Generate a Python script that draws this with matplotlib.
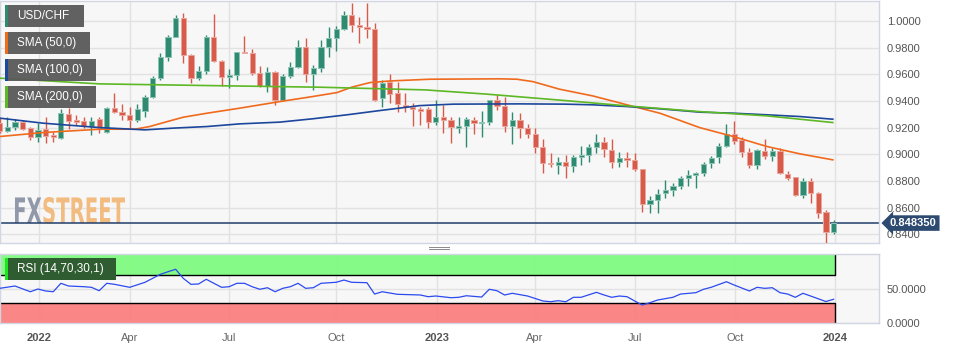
import matplotlib
matplotlib.use("Agg")
import matplotlib.pyplot as plt
import numpy as np
from matplotlib.patches import Rectangle, PathPatch
from matplotlib.textpath import TextPath
from matplotlib.font_manager import FontProperties
from matplotlib.transforms import Affine2D
from matplotlib.lines import Line2D

# weekly USD/CHF candles
opens = [0.9238, 0.9178, 0.9208, 0.9245, 0.9196, 0.9128, 0.9188, 0.9146, 0.9121, 0.9303,
         0.9258, 0.9253, 0.9213, 0.9266, 0.9166, 0.9346, 0.9316, 0.9296, 0.9258, 0.9326,
         0.9433, 0.9575, 0.9733, 0.9883, 1.0021, 0.9746, 0.9571, 0.9626, 0.9878, 0.9703,
         0.9578, 0.9596, 0.9770, 0.9763, 0.9608, 0.9513, 0.9616, 0.9408, 0.9588, 0.9658,
         0.9808, 0.9603, 0.9646, 0.9808, 0.9871, 0.9938, 1.0046, 0.9971, 0.9953, 0.9938,
         0.9425, 0.9545, 0.9458, 0.9368, 0.9353, 0.9343, 0.9338, 0.9245, 0.9278, 0.9258,
         0.9200, 0.9213, 0.9258, 0.9238, 0.9245, 0.9408, 0.9363, 0.9213, 0.9258, 0.9196,
         0.9151, 0.9058, 0.8938, 0.8923, 0.8943, 0.8913, 0.8983, 0.8996, 0.9053, 0.9091,
         0.9033, 0.8941, 0.8975, 0.8958, 0.8891, 0.8626, 0.8658, 0.8708, 0.8728, 0.8765,
         0.8825, 0.8846, 0.8858, 0.8933, 0.8978, 0.9065, 0.9151, 0.9108, 0.9020, 0.8921,
         0.9028, 0.8990, 0.9026, 0.8853, 0.8828, 0.8696, 0.8801, 0.8708, 0.8563, 0.8413]
highs = [0.9273, 0.9283, 0.9266, 0.9258, 0.9208, 0.9233, 0.9278, 0.9170, 0.9338, 0.9346,
         0.9296, 0.9283, 0.9283, 0.9283, 0.9353, 0.9458, 0.9378, 0.9358, 0.9378, 0.9446,
         0.9588, 0.9758, 0.9896, 1.0046, 1.0058, 0.9753, 0.9663, 0.9896, 1.0051, 0.9708,
         0.9638, 0.9770, 0.9888, 0.9788, 0.9663, 0.9658, 0.9628, 0.9603, 0.9691, 0.9858,
         0.9871, 0.9671, 0.9858, 0.9958, 0.9963, 1.0078, 1.0138, 1.0028, 1.0138, 0.9983,
         0.9558, 0.9603, 0.9545, 0.9458, 0.9383, 0.9358, 0.9358, 0.9408, 0.9371, 0.9283,
         0.9278, 0.9278, 0.9283, 0.9328, 0.9408, 0.9446, 0.9433, 0.9320, 0.9313, 0.9228,
         0.9196, 0.9113, 0.9008, 0.8983, 0.8993, 0.8996, 0.9063, 0.9078, 0.9151, 0.9128,
         0.9113, 0.9016, 0.9016, 0.9008, 0.8891, 0.8688, 0.8738, 0.8803, 0.8783, 0.8833,
         0.8883, 0.8870, 0.8945, 0.8988, 0.9083, 0.9228, 0.9251, 0.9128, 0.9046, 0.9041,
         0.9113, 0.9046, 0.9046, 0.8878, 0.8831, 0.8821, 0.8821, 0.8713, 0.8583, 0.8508]
lows = [0.9161, 0.9170, 0.9183, 0.9183, 0.9108, 0.9095, 0.9088, 0.9095, 0.9113, 0.9188,
        0.9221, 0.9196, 0.9146, 0.9163, 0.9163, 0.9313, 0.9258, 0.9196, 0.9245, 0.9283,
        0.9421, 0.9558, 0.9703, 0.9878, 0.9688, 0.9538, 0.9558, 0.9603, 0.9695, 0.9513,
        0.9496, 0.9558, 0.9758, 0.9596, 0.9503, 0.9470, 0.9371, 0.9403, 0.9571, 0.9646,
        0.9545, 0.9483, 0.9620, 0.9733, 0.9778, 0.9933, 0.9916, 0.9838, 0.9871, 0.9403,
        0.9353, 0.9388, 0.9320, 0.9320, 0.9213, 0.9221, 0.9196, 0.9221, 0.9163, 0.9083,
        0.9158, 0.9058, 0.9153, 0.9133, 0.9221, 0.9333, 0.9170, 0.9078, 0.9121, 0.9121,
        0.9008, 0.8858, 0.8908, 0.8851, 0.8821, 0.8870, 0.8921, 0.8941, 0.9013, 0.8983,
        0.8900, 0.8908, 0.8908, 0.8878, 0.8570, 0.8558, 0.8558, 0.8671, 0.8690, 0.8738,
        0.8758, 0.8746, 0.8833, 0.8896, 0.8933, 0.9058, 0.9076, 0.8983, 0.8900, 0.8888,
        0.8966, 0.8951, 0.8853, 0.8808, 0.8690, 0.8671, 0.8633, 0.8521, 0.8333, 0.8403]
closes = [0.9178, 0.9208, 0.9245, 0.9191, 0.9128, 0.9183, 0.9138, 0.9128, 0.9308, 0.9253,
          0.9245, 0.9213, 0.9253, 0.9196, 0.9348, 0.9318, 0.9293, 0.9258, 0.9338, 0.9433,
          0.9571, 0.9733, 0.9883, 1.0021, 0.9746, 0.9571, 0.9626, 0.9883, 0.9703, 0.9583,
          0.9596, 0.9766, 0.9758, 0.9608, 0.9513, 0.9616, 0.9408, 0.9588, 0.9653, 0.9808,
          0.9603, 0.9646, 0.9808, 0.9871, 0.9938, 1.0046, 0.9971, 0.9953, 0.9938, 0.9408,
          0.9533, 0.9451, 0.9378, 0.9353, 0.9338, 0.9328, 0.9245, 0.9278, 0.9258, 0.9203,
          0.9213, 0.9263, 0.9238, 0.9245, 0.9408, 0.9363, 0.9213, 0.9258, 0.9196, 0.9153,
          0.9058, 0.8938, 0.8926, 0.8943, 0.8913, 0.8983, 0.8996, 0.9053, 0.9091, 0.9038,
          0.8941, 0.8975, 0.8958, 0.8891, 0.8626, 0.8658, 0.8703, 0.8728, 0.8765, 0.8825,
          0.8846, 0.8858, 0.8928, 0.8975, 0.9065, 0.9151, 0.9103, 0.9020, 0.8921, 0.9033,
          0.8990, 0.9026, 0.8858, 0.8821, 0.8696, 0.8801, 0.8708, 0.8558, 0.8413, 0.84835]

# moving averages (candle index, value)
sma50_x = [0, 5.7, 13.1, 17.7, 19.6, 21.9, 24.0, 27.1, 31.4, 36.6, 40.9, 44.1, 46.0, 48.4,
           51.0, 56.2, 65.4, 67.6, 69.7, 73.2, 77.5, 82.0, 86.3, 91.5, 95.9, 100.3, 104.6, 108.9]
sma50_y = [0.9133, 0.9163, 0.9188, 0.9188, 0.9208, 0.9245, 0.9278, 0.9308, 0.9346, 0.9395,
           0.9433, 0.9463, 0.9503, 0.9538, 0.9550, 0.9563, 0.9566, 0.9563, 0.9545, 0.9488,
           0.9438, 0.9371, 0.9308, 0.9200, 0.9133, 0.9058, 0.9003, 0.8958]
sma100_x = [0, 5.7, 13.1, 19.0, 22.7, 27.1, 31.4, 36.6, 40.9, 45.4, 49.7, 54.9, 59.3, 68.0,
            73.9, 77.5, 82.0, 86.3, 91.5, 95.9, 100.3, 104.6, 108.9]
sma100_y = [0.9271, 0.9233, 0.9200, 0.9183, 0.9196, 0.9208, 0.9228, 0.9241, 0.9266, 0.9296,
            0.9328, 0.9365, 0.9376, 0.9378, 0.9376, 0.9371, 0.9358, 0.9341, 0.9316, 0.9308,
            0.9296, 0.9283, 0.9263]
sma200_x = [0, 13.1, 30.1, 41.9, 55.6, 63.7, 73.9, 82.0, 91.5, 100.3, 108.9]
sma200_y = [0.9571, 0.9528, 0.9513, 0.9503, 0.9483, 0.9451, 0.9403, 0.9363, 0.9320, 0.9288, 0.9238]

# RSI(14) (candle index, value)
rsi_x = [0, 2, 4, 5, 6, 7, 8, 9, 11, 12, 13, 14, 15, 17, 19, 21, 22, 23, 24, 25, 26, 27, 28,
         29, 30, 31, 32, 33, 34, 35, 36, 37, 38, 39, 40, 41, 42, 44, 45, 46, 48, 49, 50, 52,
         55, 56, 57, 59, 60, 61, 63, 64, 65, 66, 67, 69, 71, 72, 73, 74, 75, 76, 78, 79, 80,
         81, 82, 83, 84, 85, 86, 88, 89, 91, 92, 93, 95, 96, 98, 99, 100, 101, 102, 103, 104,
         105, 106, 108, 109]
rsi_v = [51.0, 54.4, 46.0, 50.0, 47.1, 46.0, 58.4, 54.4, 53.4, 52.5, 47.5, 58.4, 56.9, 52.5,
         59.9, 71.6, 75.4, 79.0, 65.7, 56.9, 57.4, 64.3, 58.4, 52.5, 53.4, 58.4, 58.4, 53.4,
         49.6, 51.9, 46.0, 51.0, 53.4, 58.4, 51.0, 51.9, 58.4, 59.9, 63.2, 59.9, 59.3, 42.6,
         46.0, 42.2, 41.2, 38.7, 39.7, 37.2, 37.8, 40.1, 38.2, 49.6, 47.5, 41.2, 43.7, 39.7,
         32.4, 31.3, 32.8, 31.3, 37.8, 37.8, 45.1, 41.2, 37.8, 39.7, 38.7, 32.4, 26.5, 29.9,
         33.8, 37.8, 42.6, 44.6, 49.6, 52.5, 60.7, 55.9, 47.1, 52.5, 51.0, 51.9, 44.6, 42.6,
         37.8, 43.7, 39.7, 31.6, 34.9]

tick_labels = ["2022", "Apr", "Jul", "Oct", "2023", "Apr", "Jul", "Oct", "2024"]
tick_pos = [5.14, 17.03, 29.97, 43.96, 57.16, 69.97, 83.05, 96.1, 109.19]
price_ticks = [0.84, 0.86, 0.88, 0.90, 0.92, 0.94, 0.96, 0.98, 1.00]
legend_names = ["USD/CHF", "SMA (50,0)", "SMA (100,0)", "SMA (200,0)"]

GREEN = "#2f8a72"
RED = "#d85a4b"
ORANGE = "#f06a1e"
BLUE = "#1c479c"
LGREEN = "#5cb824"

plt.rcParams["font.family"] = ["Liberation Sans", "DejaVu Sans"]

W, H = 956, 350
fig = plt.figure(figsize=(W / 100, H / 100), dpi=100)
fig.patch.set_facecolor("white")


def fx(x):
    return x / W


def fy(y):
    return 1 - y / H


ax = fig.add_axes([0, fy(243), fx(879), (243 - 1) / H])
rs = fig.add_axes([0, fy(323), fx(879), (323 - 254) / H])

opens = np.array(opens)
closes = np.array(closes)
idx = np.arange(len(closes))
up = closes >= opens

for a in (ax, rs):
    a.set_facecolor("#f7f7f7")
    for s in a.spines.values():
        s.set_color("#d2d6e3")
        s.set_linewidth(1)
    a.set_xlim(0.04, 114.94)
    a.set_xticks(tick_pos)
    a.grid(True, color="#e2e2e2", lw=1)
    a.set_axisbelow(True)
    a.yaxis.tick_right()
    a.tick_params(length=0, labelsize=8, labelcolor="#555555", pad=5.5)

# watermark
fp = FontProperties(family="DejaVu Sans", weight="bold")
p1 = TextPath((0, 0), "FX", size=36, prop=fp)
e1 = p1.get_extents()
p2 = TextPath((e1.x1 + 1, 0), "STREET", size=36, prop=fp)
e2 = p2.get_extents()
sx = (125 - 15) / (e2.x1 - e1.x0)
sy = (223 - 197) / e2.y1
tr = Affine2D().translate(-e1.x0, 0).scale(sx, sy).translate(15, H - 223)
ax.add_patch(PathPatch(p1, transform=tr, fc="#9098aa", ec="none", zorder=1.5))
ax.add_patch(PathPatch(p2, transform=tr, fc="#f2bb80", ec="none", zorder=1.5))

# candles
cols = np.where(up, GREEN, RED)
edges = np.where(up, "#8cc4b2", "#eaa69d")
ax.vlines(idx, lows, highs, colors=cols, lw=1, zorder=3)
ax.bar(idx, np.abs(closes - opens), bottom=np.minimum(opens, closes), width=0.68,
       color=cols, edgecolor=edges, linewidth=0.7, zorder=4)

ax.axhline(closes[-1], color="#213f6b", lw=1.1, zorder=2.5)

ax.plot(sma50_x, sma50_y, color=ORANGE, lw=1.2, zorder=5)
ax.plot(sma100_x, sma100_y, color=BLUE, lw=1.2, zorder=5)
ax.plot(sma200_x, sma200_y, color=LGREEN, lw=1.2, zorder=5)

ax.set_ylim(0.83339, 1.01501)
ax.set_yticks(price_ticks)
ax.set_yticklabels([f"{v:.4f}" for v in price_ticks])
ax.tick_params(axis="x", labelbottom=False)

ax.text(1 + 11 / 879, closes[-1], f"{closes[-1]:.6f}", transform=ax.get_yaxis_transform(),
        ha="left", va="center", fontsize=8, fontweight="bold", color="white",
        bbox=dict(boxstyle="larrow,pad=0.25", fc="#2d4a70", ec="none"), clip_on=False, zorder=10)

# RSI panel
band_end = idx[-1] + 0.2
rs.fill_between([-1, band_end], 70, 100, color="#7dfb7d", alpha=0.93, lw=0, zorder=1)
rs.fill_between([-1, band_end], 0, 30, color="#fb7d7d", alpha=0.93, lw=0, zorder=1)
rs.plot([-1, band_end, band_end], [70, 70, 100], color="black", lw=1, zorder=2)
rs.plot([-1, band_end, band_end], [30, 30, 0], color="black", lw=1, zorder=2)
rs.plot(rsi_x, rsi_v, color="#2b4af0", lw=0.9, zorder=3)
rs.set_ylim(0, 101.5)
rs.set_yticks([0, 50])
rs.set_yticklabels(["0.0000", "50.0000"])
rs.set_xticklabels(tick_labels)
rs.tick_params(axis="x", pad=7, labelcolor="#666666")
for lab in rs.get_xticklabels():
    if lab.get_text().isdigit():
        lab.set_fontweight("bold")
        lab.set_color("#555555")

# legend boxes
box_tops = [5, 32, 59, 86]
box_widths = [79, 85, 91, 91]
for name, col, top, bw in zip(legend_names, [GREEN, ORANGE, BLUE, LGREEN], box_tops, box_widths):
    fig.add_artist(Rectangle((fx(5), fy(top + 22)), fx(bw), 22 / H, transform=fig.transFigure,
                             fc="#595959", ec="none", alpha=0.95, zorder=6))
    fig.add_artist(Rectangle((fx(5), fy(top + 22)), fx(2.5), 22 / H, transform=fig.transFigure,
                             fc=col, ec="none", zorder=7))
    fig.text(fx(17), fy(top + 11), name, color="white", fontsize=8.5, va="center", ha="left", zorder=8)

fig.add_artist(Rectangle((fx(5), fy(280)), fx(111), 22 / H, transform=fig.transFigure,
                         fc="#2f5c30", ec="none", zorder=6))
fig.add_artist(Rectangle((fx(5), fy(280)), fx(2.5), 22 / H, transform=fig.transFigure,
                         fc="#1ee61e", ec="none", zorder=7))
fig.text(fx(17), fy(269), "RSI (14,70,30,1)", color="white", fontsize=8.5, va="center", ha="left", zorder=8)

# panel divider handle
for yy in (246.5, 248.5):
    fig.add_artist(Line2D([fx(429), fx(449)], [fy(yy), fy(yy)], transform=fig.transFigure,
                          color="#8a8a8a", lw=0.7))

fig.savefig("out.png", dpi=100)
